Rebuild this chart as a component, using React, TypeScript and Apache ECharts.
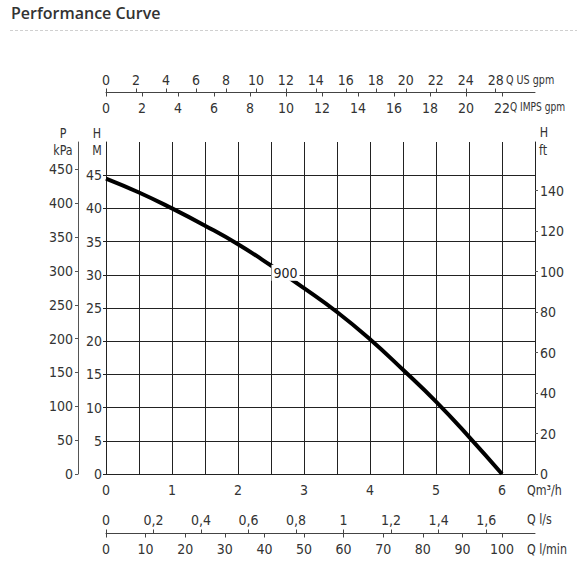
import React, { useEffect, useRef } from "react";
import * as echarts from "echarts";

// ---- data ----
const flowM3h = [0, 0.5, 1, 1.5, 2, 2.5, 3, 3.5, 4, 4.5, 5, 5.5, 6];
const headM = [44.5, 42.4, 40.0, 37.4, 34.6, 31.4, 28.0, 24.4, 20.3, 15.7, 10.9, 5.6, 0];
const curveName = "900";
const curveLabelAt = [2.72, 30.3];

const m3hTicks = [0, 1, 2, 3, 4, 5, 6];
const headTicks = [0, 5, 10, 15, 20, 25, 30, 35, 40, 45];
const kPaTicks = [0, 50, 100, 150, 200, 250, 300, 350, 400, 450];
const ftTicks = [0, 20, 40, 60, 80, 100, 120, 140];
const usGpmTicks = [0, 2, 4, 6, 8, 10, 12, 14, 16, 18, 20, 22, 24, 26];
const usGpmLabels = ["0", "2", "4", "6", "8", "10", "12", "14", "16", "18", "20", "22", "24", "28"];
const impGpmTicks = [0, 2, 4, 6, 8, 10, 12, 14, 16, 18, 20, 22];
const lsTicks = [0, 0.2, 0.4, 0.6, 0.8, 1, 1.2, 1.4, 1.6];
const lminTicks = [0, 10, 20, 30, 40, 50, 60, 70, 80, 90, 100];

// unit conversions
const Q_MAX = 6.5;
const H_MAX = 50;
const M_TO_KPA = 9.81;
const M_TO_FT = 1 / 0.3048;
const USGPM_M3H = 0.227125;
const IMPGPM_M3H = 0.272765;
const LS_M3H = 3.6;
const LMIN_M3H = 0.06;

const FONT = "'Liberation Sans Narrow', 'DejaVu Sans Condensed', Roboto, sans-serif";
const TXT = "#333";
const GRID = "#222";

const lbl = (extra: any = {}) => ({
  color: TXT,
  fontSize: 14,
  fontFamily: FONT,
  ...extra,
});

const commaNum = (v: number) => {
  const r = Math.round(v * 10) / 10;
  return Number.isInteger(r) ? String(r) : r.toFixed(1).replace(".", ",");
};

const text = (t: string, x: number, y: number, align = "center", size = 14, sx = 0.88) => ({
  type: "text",
  x,
  y,
  scaleX: sx,
  z: 10,
  style: {
    text: t,
    fill: TXT,
    fontSize: size,
    fontFamily: FONT,
    align,
    verticalAlign: "middle",
  },
});

const line = (color: string) => ({ show: true, onZero: false, lineStyle: { color, width: 1 } });

export default function App() {
  const ref = useRef<HTMLDivElement>(null);
  useEffect(() => {
    const chart = echarts.init(ref.current!, null, { renderer: "svg" });
    const option: any = {
      animation: false,
      backgroundColor: "#fff",
      grid: { left: 106, top: 142, width: 429, height: 332, containLabel: false },
      xAxis: [
        {
          type: "value",
          min: 0,
          max: Q_MAX,
          interval: 0.5,
          position: "bottom",
          axisLine: line(GRID),
          axisTick: { show: false },
          splitLine: { show: true, lineStyle: { color: GRID, width: 1 } },
          axisLabel: lbl({ customValues: m3hTicks, margin: 9 }),
        },
        {
          type: "value",
          min: 0,
          max: Q_MAX / USGPM_M3H,
          position: "top",
          offset: 49.5,
          axisLine: line("#444"),
          axisTick: { show: true, customValues: usGpmTicks, length: 4, lineStyle: { color: "#444" } },
          splitLine: { show: false },
          axisLabel: lbl({
            customValues: usGpmTicks,
            margin: 6,
            formatter: (v: number) => usGpmLabels[usGpmTicks.indexOf(Math.round(v))] ?? "",
          }),
        },
        {
          type: "value",
          min: 0,
          max: Q_MAX / IMPGPM_M3H,
          position: "top",
          offset: 49.5,
          axisLine: { show: false, onZero: false },
          axisTick: { show: true, inside: true, customValues: impGpmTicks, length: 4, lineStyle: { color: "#444" } },
          splitLine: { show: false },
          axisLabel: lbl({ customValues: impGpmTicks, inside: true, margin: 8 }),
        },
        {
          type: "value",
          min: 0,
          max: Q_MAX / LS_M3H,
          position: "bottom",
          offset: 59.5,
          axisLine: line("#444"),
          axisTick: { show: true, inside: true, customValues: lsTicks, length: 4, lineStyle: { color: "#444" } },
          splitLine: { show: false },
          axisLabel: lbl({ customValues: lsTicks, inside: true, margin: 7, formatter: commaNum }),
        },
        {
          type: "value",
          min: 0,
          max: Q_MAX / LMIN_M3H,
          position: "bottom",
          offset: 59.5,
          axisLine: { show: false, onZero: false },
          axisTick: { show: true, customValues: lminTicks, length: 4, lineStyle: { color: "#444" } },
          splitLine: { show: false },
          axisLabel: lbl({ customValues: lminTicks, margin: 8 }),
        },
      ],
      yAxis: [
        {
          type: "value",
          min: 0,
          max: H_MAX,
          interval: 5,
          position: "left",
          axisLine: line(GRID),
          axisTick: { show: true, length: 3, customValues: headTicks, lineStyle: { color: GRID } },
          splitLine: { show: true, lineStyle: { color: GRID, width: 1 } },
          axisLabel: lbl({ customValues: headTicks, margin: 4 }),
        },
        {
          type: "value",
          min: 0,
          max: H_MAX * M_TO_KPA,
          position: "left",
          offset: 28,
          axisLine: line("#555"),
          axisTick: { show: true, length: 3, customValues: kPaTicks, lineStyle: { color: "#555" } },
          splitLine: { show: false },
          axisLabel: lbl({ customValues: kPaTicks, margin: 5 }),
        },
        {
          type: "value",
          min: 0,
          max: H_MAX * M_TO_FT,
          position: "right",
          axisLine: line(GRID),
          axisTick: { show: true, length: 3, customValues: ftTicks, lineStyle: { color: "#555" } },
          splitLine: { show: false },
          axisLabel: lbl({ customValues: ftTicks, margin: 5 }),
        },
      ],
      series: [
        {
          type: "line",
          name: curveName,
          xAxisIndex: 0,
          yAxisIndex: 0,
          data: flowM3h.map((q, i) => [q, headM[i]]),
          showSymbol: false,
          smooth: 0.5,
          lineStyle: { color: "#000", width: 4 },
          z: 5,
          markPoint: {
            symbol: "rect",
            symbolSize: 1,
            itemStyle: { color: "rgba(0,0,0,0)" },
            z: 6,
            data: [
              {
                coord: curveLabelAt,
                label: {
                  show: true,
                  position: "inside",
                  formatter: curveName,
                  color: "#222",
                  fontSize: 14,
                  fontFamily: FONT,
                  backgroundColor: "#fff",
                  padding: [1, 2, 1, 2],
                },
              },
            ],
          },
        },
      ],
      graphic: [
        {
          type: "text",
          x: 11,
          y: 13,
          style: {
            text: "Performance Curve",
            fill: "#333",
            fontSize: 16,
            fontWeight: 600,
            fontFamily: "'Open Sans', 'Noto Sans', sans-serif",
            align: "left",
            verticalAlign: "middle",
          },
        },
        {
          type: "line",
          shape: { x1: 10, y1: 30.5, x2: 577, y2: 30.5 },
          style: { stroke: "#d0d0d0", lineWidth: 1, lineDash: [3, 2] },
        },
        text("P", 63, 133),
        text("kPa", 63, 150),
        text("H", 97, 133),
        text("M", 97, 150),
        text("H", 544, 132),
        text("ft", 543, 150),
        text("Q US gpm", 506, 80, "left", 13, 0.82),
        text("Q IMPS gpm", 510, 107, "left", 13, 0.78),
        text("Qm³/h", 527, 490, "left"),
        text("Q l/s", 527, 519, "left"),
        text("Q l/min", 527, 549, "left"),
      ],
    };
    chart.setOption(option);
    return () => chart.dispose();
  }, []);
  return (
    <div
      ref={ref}
      style={{ position: "absolute", left: 0, top: 0, width: 577, height: 564, background: "#fff" }}
    />
  );
}
